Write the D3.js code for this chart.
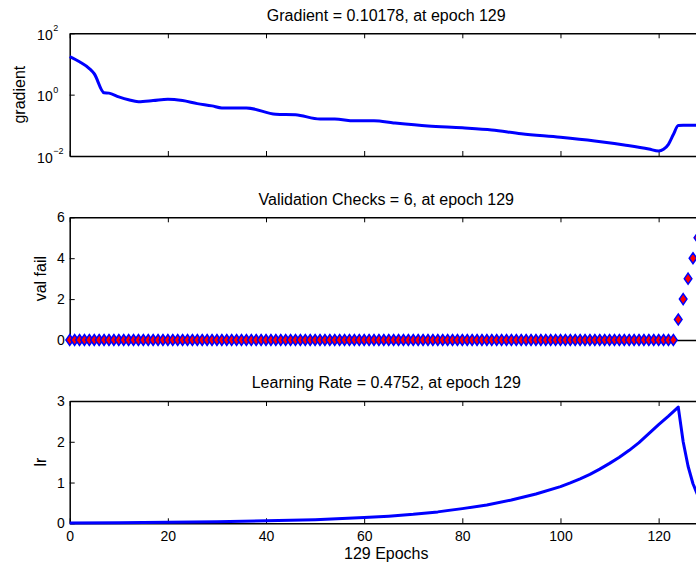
<!DOCTYPE html>
<html>
<head>
<meta charset="utf-8">
<title>training state</title>
<script src="https://cdn.jsdelivr.net/npm/d3@7"></script>
<style>
  body { margin: 0; background: #fff; }
  text { font-family: "Liberation Sans", Arial, sans-serif; fill: #000; }
  .axis path, .axis line { stroke: #000; }
</style>
</head>
<body>
<script>
// data
var gradEpochs = [0, 2, 4, 5, 7, 8, 10, 12, 14, 17, 20, 23, 26, 29, 31, 36, 42, 46, 51, 54, 58, 62, 66, 73, 80, 86, 92, 100, 107, 113, 118, 120, 121, 122, 123, 124, 125, 129];
var gradValues = [17.4, 11.8, 7.1, 4.8, 1.15, 1.12, 0.85, 0.68, 0.59, 0.64, 0.71, 0.64, 0.51, 0.43, 0.37, 0.37, 0.23, 0.22, 0.16, 0.16, 0.14, 0.14, 0.12, 0.095, 0.083, 0.071, 0.053, 0.041, 0.031, 0.023, 0.017, 0.0145, 0.0165, 0.024, 0.05, 0.098, 0.1, 0.10178];

var valFail = [
  0,0,0,0,0,0,0,0,0,0,0,0,0,0,0,0,0,0,0,0,
  0,0,0,0,0,0,0,0,0,0,0,0,0,0,0,0,0,0,0,0,
  0,0,0,0,0,0,0,0,0,0,0,0,0,0,0,0,0,0,0,0,
  0,0,0,0,0,0,0,0,0,0,0,0,0,0,0,0,0,0,0,0,
  0,0,0,0,0,0,0,0,0,0,0,0,0,0,0,0,0,0,0,0,
  0,0,0,0,0,0,0,0,0,0,0,0,0,0,0,0,0,0,0,0,
  0,0,0,0,1,2,3,4,5,6];

var lrEpochs = [0, 10, 20, 30, 40, 50, 60, 65, 70, 75, 80, 85, 90, 95, 100, 102, 104, 106, 108, 110, 112, 114, 116, 118, 120, 122, 124, 125, 126, 127, 128, 129];
var lrValues = [0.01, 0.015, 0.025, 0.04, 0.06, 0.09, 0.14, 0.175, 0.22, 0.28, 0.36, 0.45, 0.57, 0.72, 0.9, 0.99, 1.09, 1.2, 1.33, 1.47, 1.62, 1.79, 1.98, 2.2, 2.42, 2.63, 2.85, 2.0, 1.4, 0.97, 0.68, 0.4752];

var titles = ["Gradient = 0.10178, at epoch 129", "Validation Checks = 6, at epoch 129", "Learning Rate = 0.4752, at epoch 129"];
var xTicks = [0, 20, 40, 60, 80, 100, 120];

var width = 696, height = 567;
var svg = d3.select("body").append("svg")
    .attr("width", width)
    .attr("height", height);

var left = 69.7, right = 702.8;
var x = d3.scaleLinear().domain([0, 129]).range([left, right]);

// three panels
var panels = [
  {top: 33.3, bottom: 156, titleY: 21, label: "gradient", labelX: 25},
  {top: 217.3, bottom: 340, titleY: 205, label: "val fail", labelX: 46},
  {top: 401, bottom: 523.3, titleY: 388, label: "lr", labelX: 46}
];

var yGrad = d3.scaleLog().domain([0.01, 100]).range([panels[0].bottom, panels[0].top]);
var yVal = d3.scaleLinear().domain([0, 6]).range([panels[1].bottom, panels[1].top]);
var yLr = d3.scaleLinear().domain([0, 3]).range([panels[2].bottom, panels[2].top]);

function frame(p, i, showLabels) {
  var cx = (left + right) / 2;
  svg.append("text")
    .attr("x", cx).attr("y", p.titleY)
    .attr("text-anchor", "middle")
    .style("font-size", "16px")
    .text(titles[i]);

  svg.append("text")
    .attr("transform", "translate(" + p.labelX + "," + (p.top + p.bottom) / 2 + ") rotate(-90)")
    .attr("text-anchor", "middle")
    .style("font-size", "16px")
    .text(p.label);

  // bottom axis with inner ticks
  var xb = d3.axisBottom(x).tickValues(xTicks).tickSizeInner(-5).tickSizeOuter(0).tickPadding(8);
  if (!showLabels) xb.tickFormat("");
  var gb = svg.append("g").attr("class", "axis")
    .attr("transform", "translate(0," + p.bottom + ")")
    .call(xb);
  gb.selectAll("text").style("font-size", "14px");

  var xt = d3.axisTop(x).tickValues(xTicks).tickSizeInner(-5).tickSizeOuter(0).tickFormat("");
  svg.append("g").attr("class", "axis")
    .attr("transform", "translate(0," + p.top + ")")
    .call(xt);
}

panels.forEach(function(p, i) { frame(p, i, i === 2); });

// y axes
var gy1 = svg.append("g").attr("class", "axis")
  .attr("transform", "translate(" + left + ",0)")
  .call(d3.axisLeft(yGrad).tickValues([0.01, 1, 100]).tickSizeInner(-5).tickSizeOuter(0).tickFormat(""));
var expo = ["\u22122", "0", "2"];
gy1.selectAll(".tick").each(function(d, i) {
  d3.select(this).append("text")
    .attr("x", -17).attr("y", 6)
    .attr("text-anchor", "end")
    .style("font-size", "14px")
    .text("10");
  d3.select(this).append("text")
    .attr("x", -16.5).attr("y", -2.5)
    .attr("text-anchor", "start")
    .style("font-size", "9px")
    .text(expo[i]);
});

svg.append("g").attr("class", "axis")
  .attr("transform", "translate(" + left + ",0)")
  .call(d3.axisLeft(yVal).tickValues([0, 2, 4, 6]).tickFormat(d3.format("d")).tickSizeInner(-5).tickSizeOuter(0).tickPadding(5))
  .selectAll("text").style("font-size", "14px");

svg.append("g").attr("class", "axis")
  .attr("transform", "translate(" + left + ",0)")
  .call(d3.axisLeft(yLr).tickValues([0, 1, 2, 3]).tickFormat(d3.format("d")).tickSizeInner(-5).tickSizeOuter(0).tickPadding(5))
  .selectAll("text").style("font-size", "14px");

svg.selectAll(".axis path").attr("stroke-width", 1.5);
svg.selectAll(".axis line").attr("stroke-width", 1);

// gradient line
var gradData = gradEpochs.map(function(e, i) { return [e, gradValues[i]]; });
svg.append("path")
  .attr("d", d3.line().curve(d3.curveMonotoneX)
    .x(function(d) { return x(d[0]); })
    .y(function(d) { return yGrad(d[1]); })(gradData))
  .attr("fill", "none")
  .attr("stroke", "#0000ff")
  .attr("stroke-width", 3);

// validation checks markers
svg.selectAll(".vf")
  .data(valFail)
  .enter()
  .append("path")
  .attr("class", "vf")
  .attr("transform", function(d, i) { return "translate(" + x(i) + "," + yVal(d) + ")"; })
  .attr("d", "M0,-5.5L3.8,0L0,5.5L-3.8,0Z")
  .attr("fill", "#ff0000")
  .attr("stroke", "#0000ff")
  .attr("stroke-width", 1.5);

// learning rate line
var lrData = lrEpochs.map(function(e, i) { return [e, lrValues[i]]; });
svg.append("path")
  .attr("d", d3.line()
    .x(function(d) { return x(d[0]); })
    .y(function(d) { return yLr(d[1]); })(lrData))
  .attr("fill", "none")
  .attr("stroke", "#0000ff")
  .attr("stroke-width", 3)
  .attr("stroke-linejoin", "round");

svg.append("text")
  .attr("x", (left + right) / 2).attr("y", 559)
  .attr("text-anchor", "middle")
  .style("font-size", "16px")
  .text("129 Epochs");
</script>
</body>
</html>
